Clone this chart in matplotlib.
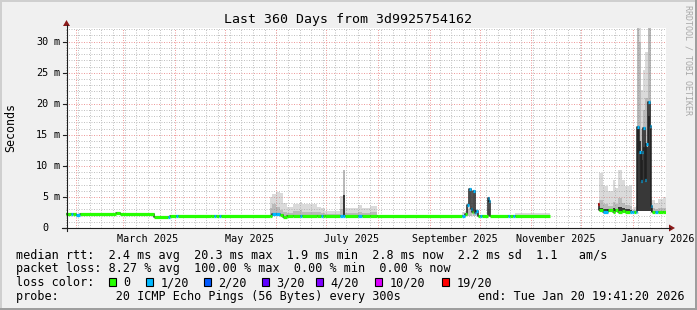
import numpy as np
import matplotlib
matplotlib.use("Agg")
import matplotlib.pyplot as plt
from matplotlib.patches import Rectangle, Polygon

W, H = 697, 310
MONO = "DejaVu Sans Mono"

# 360 days ending at the probe's last update
end_time = np.datetime64("2026-01-20T19:41:20")
span_days = 360
start_time = end_time - np.timedelta64(span_days, "D")

# data bins: start day (offset from start_time), median rtt (ms), loss class
# smoke (ms): lower bound, top of dark / mid / light band, 0 = no smoke
bin_start = [0.0, 3.0, 4.2, 6.0, 8.4, 30.0, 32.4, 52.8, 61.2, 62.4,
             66.0, 67.2, 87.0, 88.8, 90.0, 91.8, 93.0, 122.4, 123.6, 126.0,
             128.4, 130.2, 132.6, 136.2, 140.4, 141.6, 150.6, 153.0, 154.2, 155.4,
             164.4, 166.2, 167.4, 175.2, 177.6, 182.4, 186.6, 237.6, 239.4, 240.6,
             241.8, 243.0, 243.6, 244.2, 245.4, 246.0, 247.2, 248.4, 249.6, 253.2,
             253.8, 254.4, 265.2, 266.4, 268.2, 269.4, 290.4, 319.2, 319.8, 322.2,
             325.2, 328.2, 329.4, 331.2, 333.6, 335.4, 338.4, 339.6, 340.8, 342.0,
             342.6, 343.8, 345.0, 345.6, 346.2, 347.4, 348.0, 349.2, 350.4, 351.0,
             351.6, 353.4, 355.2, 358.2]
median_ms = [2.3, 2.3, 2.2, 2.15, 2.2, 2.35, 2.2, 1.82, 1.82, 1.98,
             1.98, 1.98, 1.9, 1.9, 1.93, 1.93, 1.93, 2.0, 2.25, 2.25,
             2.1, 1.75, 1.95, 2.0, 2.0, 2.0, 2.0, 2.0, 2.0, 2.0,
             2.0, 2.0, 2.0, 2.0, 2.0, 2.0, 1.98, 2.0, 2.2, 3.7,
             6.2, 3.1, 2.6, 5.9, 2.4, 2.7, 2.0, 2.0, 2.0, 4.9,
             4.4, 2.0, 2.0, 2.0, 2.0, 2.0, np.nan, 3.8, 2.9, 2.6,
             2.9, 2.6, 2.9, 2.6, 2.8, 2.6, 2.6, 2.6, 2.6, 2.6,
             16.2, 12.3, 7.5, 12.3, 16.1, 7.7, 13.5, 20.3, 16.4, 3.5,
             2.6, 2.6, 2.6, 2.6]
loss_cls = [0, 1, 0, 1, 0, 0, 0, 0, 1, 0,
            1, 0, 0, 1, 0, 1, 0, 0, 1, 1,
            0, 0, 0, 0, 1, 0, 0, 1, 0, 0,
            1, 1, 0, 1, 0, 0, 0, 1, 0, 1,
            1, 1, 0, 1, 1, 1, 0, 1, 0, 1,
            1, 0, 1, 0, 1, 0, 0, 6, 0, 1,
            0, 0, 0, 0, 0, 0, 1, 1, 0, 1,
            1, 1, 1, 1, 1, 1, 1, 1, 1, 1,
            0, 1, 0, 0]
smoke_min = [0, 0, 0, 0, 0, 0, 0, 0, 0, 0,
             0, 0, 0, 0, 0, 0, 0, 1.9, 1.9, 1.9,
             1.9, 1.7, 1.9, 1.9, 1.9, 1.9, 1.9, 1.9, 1.9, 1.9,
             1.9, 1.9, 1.9, 1.9, 1.9, 1.9, 0, 1.9, 1.9, 2.0,
             2.0, 2.0, 2.0, 2.0, 2.0, 2.0, 0, 0, 0, 2.0,
             2.0, 0, 0, 0, 0, 1.9, 0, 2.9, 2.7, 2.5,
             2.6, 2.5, 2.6, 2.5, 2.5, 2.5, 2.5, 2.5, 2.5, 2.5,
             2.8, 2.8, 2.8, 2.8, 2.8, 2.8, 2.8, 2.8, 2.8, 2.5,
             2.5, 2.5, 2.5, 2.5]
smoke_dark = [0, 0, 0, 0, 0, 0, 0, 0, 0, 0,
              0, 0, 0, 0, 0, 0, 0, 0, 0, 0,
              0, 0, 0, 0, 0, 0, 0, 0, 0, 0,
              0, 5.3, 0, 0, 0, 0, 0, 0, 0, 0,
              0, 0, 0, 0, 0, 0, 0, 0, 0, 0,
              0, 0, 0, 0, 0, 0, 0, 0, 3.3, 3.0,
              3.1, 3.2, 3.1, 3.4, 3.2, 3.0, 2.9, 0, 0, 0,
              16.0, 14.0, 11.0, 11.0, 13.0, 12.0, 13.0, 18.0, 16.0, 3.5,
              0, 0, 0, 0]
smoke_mid = [0, 0, 0, 0, 0, 0, 0, 0, 0, 0,
             0, 0, 0, 0, 0, 0, 0, 3.3, 3.8, 3.4,
             2.9, 2.6, 2.4, 2.8, 2.9, 2.6, 2.5, 2.4, 2.4, 2.3,
             3.0, 9.3, 2.4, 2.6, 2.4, 2.6, 0, 0, 0, 3.0,
             3.2, 2.8, 0, 3.0, 0, 0, 0, 0, 0, 3.0,
             3.0, 0, 0, 0, 0, 0, 0, 0, 4.5, 3.8,
             3.6, 4.2, 3.8, 4.8, 4.0, 3.7, 3.5, 2.8, 2.9, 3.0,
             40, 30, 16.0, 16.0, 19.0, 21.0, 21.0, 40, 35, 4.0,
             3.2, 3.0, 3.3, 3.2]
smoke_max = [0, 0, 0, 0, 0, 0, 0, 0, 0, 0,
             0, 0, 0, 0, 0, 0, 0, 5.0, 5.4, 5.8,
             5.6, 4.0, 3.4, 3.9, 4.2, 3.8, 3.4, 3.3, 3.3, 2.8,
             5.2, 9.3, 3.2, 3.7, 3.2, 3.5, 0, 2.6, 2.8, 4.0,
             6.4, 3.6, 3.0, 6.0, 3.0, 3.0, 0, 0, 0, 5.0,
             5.0, 0, 0, 0, 0, 2.4, 0, 4.0, 8.9, 6.7,
             6.0, 7.7, 6.5, 9.4, 7.7, 6.7, 7.0, 3.0, 3.4, 3.5,
             40, 40, 22.2, 22.2, 25.4, 28.4, 28.4, 40, 40, 5.0,
             4.5, 4.0, 4.6, 5.0]

loss_colors = ["#26ff00", "#00b8ff", "#0059ff", "#5e00ff", "#7e00ff", "#dd00ff", "#ff0000"]
loss_labels = ["0", "1/20", "2/20", "3/20", "4/20", "10/20", "19/20"]

y_ticks = [0, 5, 10, 15, 20, 25, 30]
label_dates = ["2025-03-16", "2025-05-16", "2025-07-16", "2025-09-16", "2025-11-16", "2026-01-16"]
label_texts = ["March 2025", "May 2025", "July 2025", "September 2025", "November 2025", "January 2026"]

legend_lines = [
    "median rtt:  2.4 ms avg  20.3 ms max  1.9 ms min  2.8 ms now  2.2 ms sd  1.1   am/s",
    "packet loss: 8.27 % avg  100.00 % max  0.00 % min  0.00 % now",
]
probe_text = "probe:        20 ICMP Echo Pings (56 Bytes) every 300s"
end_text = "end: Tue Jan 20 19:41:20 2026"


def day_of(d):
    return (np.datetime64(d, "s") - start_time) / np.timedelta64(1, "D")


# sanity on the bin lists
n = len(bin_start)
for arr in (median_ms, loss_cls, smoke_min, smoke_dark, smoke_mid, smoke_max):
    assert len(arr) == n

fig = plt.figure(figsize=(W / 100, H / 100), dpi=100, facecolor="#f0f0f0")
ax = fig.add_axes([66 / W, (H - 228) / H, 600 / W, 200 / H], facecolor="white")
ax.set_xlim(0, span_days)
ax.set_ylim(0, 32.2)
for s in ax.spines.values():
    s.set_visible(False)
ax.set_yticks([])

edges = np.append(bin_start, span_days)
left = edges[:-1]
width = np.diff(edges)
med = np.asarray(median_ms, float)
smin = np.asarray(smoke_min, float)

# grid: dotted, under the smoke (light smoke is translucent)
dot = (0, (1, 1.5))
minor_c, major_c = "#c2c2c2", "#ee9c9c"
gkw = dict(lw=0.72, ls=dot, zorder=0.5)
for v in range(1, 33):
    ax.axhline(v, color=major_c if v % 5 == 0 else minor_c, **gkw)
sundays = np.arange(np.datetime64("2025-01-26"), end_time.astype("datetime64[D]") + 1,
                    np.timedelta64(7, "D"))
for d in sundays:
    ax.axvline(day_of(d), color=minor_c, **gkw)
months = np.arange(np.datetime64("2025-02"), np.datetime64("2026-02"), dtype="datetime64[M]")
for mth in months:
    ax.axvline(day_of(mth), color=major_c, **gkw)

# smoke bands
for top, col, al in [(smoke_max, "#a0a0a0", 0.38), (smoke_mid, "#808080", 0.35),
                     (smoke_dark, "#383838", 1.0)]:
    top = np.asarray(top, float)
    m = top > 0
    ax.bar(left[m], top[m] - smin[m], bottom=smin[m], width=width[m], align="edge",
           color=col, alpha=al, linewidth=0, antialiased=False, zorder=1)

# median: dark connecting steps, then loss coloured levels
xs = np.repeat(edges, 2)[1:-1]
ys = np.repeat(med, 2)
ax.plot(xs, ys, color="#202020", lw=1.1, zorder=3, solid_capstyle="butt")
ok = ~np.isnan(med)
cols = [loss_colors[c] for c in np.asarray(loss_cls)[ok]]
ax.hlines(med[ok], left[ok], edges[1:][ok], colors=cols, lw=2.3, zorder=4)

# x labels at mid month
ax.set_xticks([day_of(d) for d in label_dates])
ax.set_xticklabels(label_texts, fontfamily=MONO, fontsize=7.3)
ax.tick_params(axis="x", length=0, pad=4)

# overlay in pixel coordinates for frame, axes, text
ov = fig.add_axes([0, 0, 1, 1], facecolor="none")
ov.set_xlim(0, W)
ov.set_ylim(H, 0)
ov.axis("off")

ov.add_patch(Rectangle((0, 0), W, 1.5, color="#cfcfcf", lw=0))
ov.add_patch(Rectangle((0, 0), 1.5, H, color="#cfcfcf", lw=0))
ov.add_patch(Rectangle((0, H - 2), W, 2, color="#9e9e9e", lw=0))
ov.add_patch(Rectangle((W - 2, 0), 2, H, color="#9e9e9e", lw=0))

ov.plot([62, 670], [228, 228], color="#202020", lw=0.8)
ov.plot([66.5, 66.5], [231, 25], color="#202020", lw=0.8)
ov.add_patch(Polygon([(669, 224.5), (675, 228), (669, 231.5)], color="#8b1a1a", lw=0))
ov.add_patch(Polygon([(63, 26), (66.5, 20), (70, 26)], color="#8b1a1a", lw=0))

for v in y_ticks:
    yp = 228 - v * 200 / 32.2
    ov.plot([63, 66.5], [yp, yp], color="#202020", lw=0.8)
    ov.text(48.5, yp, str(v), ha="right", va="center", fontfamily=MONO, fontsize=7.3)
    if v:
        ov.text(53.5, yp, "m", ha="left", va="center", fontfamily=MONO, fontsize=7.3)

ov.text(348, 20, "Last 360 Days from 3d9925754162", ha="center", va="center",
        fontfamily=MONO, fontsize=9.5)
ov.text(10.5, 128, "Seconds", rotation=90, ha="center", va="center",
        fontfamily=MONO, fontsize=8.4)
ov.text(688, 5, "RRDTOOL / TOBI OETIKER", rotation=270, ha="center", va="top",
        fontfamily=MONO, fontsize=6, color="#a8a8a8")

# legend
ov.text(16, 258.5, legend_lines[0], ha="left", va="baseline", fontfamily=MONO, fontsize=8.5)
ov.text(16, 272.4, legend_lines[1], ha="left", va="baseline", fontfamily=MONO, fontsize=8.5)
ov.text(16, 286.2, "loss color:", ha="left", va="baseline", fontfamily=MONO, fontsize=8.5)
sq_x = [109, 146, 204, 262, 316, 375, 442]
for x0, col, lab in zip(sq_x, loss_colors, loss_labels):
    ov.add_patch(Rectangle((x0, 278), 7, 7.5, facecolor=col, edgecolor="black", lw=0.8))
    ov.text(x0 + 14.5, 286.2, lab, ha="left", va="baseline", fontfamily=MONO, fontsize=8.5)
ov.text(16, 300, probe_text, ha="left", va="baseline", fontfamily=MONO, fontsize=8.5)
ov.text(478, 300, end_text, ha="left", va="baseline", fontfamily=MONO, fontsize=8.5)

fig.savefig("out.png", dpi=100, facecolor=fig.get_facecolor())
